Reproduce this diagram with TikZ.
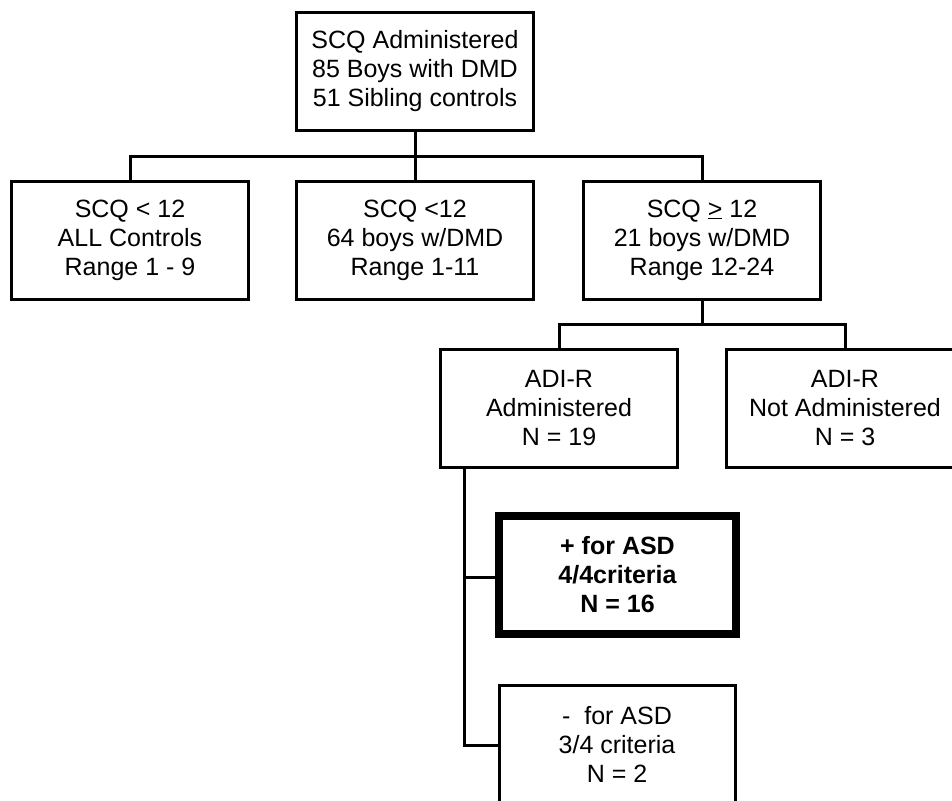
\documentclass[tikz,border=0pt]{standalone}
\usepackage{fontspec}
\setmainfont{Liberation Sans}
\begin{document}
\begin{tikzpicture}[x=1pt,y=-1pt,
  box/.style={draw=black, line width=3pt, minimum width=237pt, minimum height=118pt,
    align=center, inner sep=0pt, font=\fontsize{25}{29}\selectfont},
  boldbox/.style={box, line width=8pt, font=\fontsize{25}{29}\selectfont\bfseries},
  conn/.style={draw=black, line width=3pt}]
\useasboundingbox (0,0) rectangle (952,800);
\clip (0,0) rectangle (952,800);
\fill[white] (0,0) rectangle (952,800);

\node[box] (top) at (415,71.5) {SCQ Administered\\85 Boys with DMD\\51 Sibling controls};
\node[box] (b1) at (130,240) {SCQ < 12\\ALL Controls\\Range 1 - 9};
\node[box] (b2) at (415,240) {SCQ <12\\64 boys w/DMD\\Range 1-11};
\node[box] (b3) at (702,240) {SCQ \underline{>} 12\\21 boys w/DMD\\Range 12-24};
\node[box] (adi) at (559,408) {ADI-R\\Administered\\N = 19};
\node[box] (nadi) at (845,408) {ADI-R\\Not Administered\\N = 3};
\node[boldbox] (pos) at (617.5,575) {+ for ASD\\4/4criteria\\N = 16};
\node[box, minimum width=236pt] (neg) at (617,744) {-\ \ for ASD\\3/4 criteria\\N = 2};

\coordinate (h1) at (130,156);
\coordinate (h2) at (702,156);
\coordinate (h3) at (559,324);
\coordinate (h4) at (845,324);
\coordinate (v1) at (464,577);
\coordinate (v2) at (464,745);

\draw[conn] (top.south) -- (b2.north);
\draw[conn] (b1.north) -- (h1) -- (h2) -- (b3.north);
\draw[conn] (b3.south) -- (b3.south |- h3);
\draw[conn] (adi.north) -- (h3) -- (h4) -- (nadi.north);
\draw[conn] (adi.south -| v1) -- (v2) -- (v2 -| neg.west);
\draw[conn] (v1) -- (v1 -| pos.west);
\end{tikzpicture}
\end{document}
